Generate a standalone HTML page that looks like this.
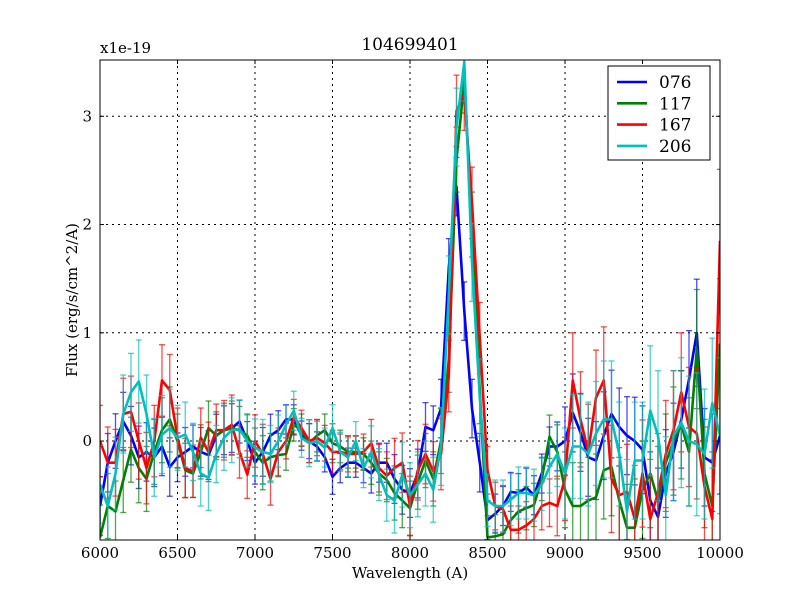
<!DOCTYPE html>
<html><head><meta charset="utf-8"><style>
body{margin:0;background:#fff;}
svg text{font-family:"DejaVu Serif","Liberation Serif",serif;}
</style></head><body>
<svg id="chart" width="800" height="600" xmlns="http://www.w3.org/2000/svg">
<rect width="800" height="600" fill="#fff"/>
<g id="grid"></g>
<defs><clipPath id="pc"><rect x="100" y="60" width="620" height="480"/></clipPath></defs>
<g id="series" clip-path="url(#pc)"></g>
<rect x="100" y="60" width="620" height="480" fill="none" stroke="#000" stroke-width="1"/>
<g id="ticks"></g>
<text x="410" y="50" font-size="17" text-anchor="middle">104699401</text>
<text x="100" y="53" font-size="15">x1e-19</text>
<text x="410" y="578" font-size="15" text-anchor="middle">Wavelength (A)</text>
<text transform="translate(77,300) rotate(-90)" font-size="15" text-anchor="middle">Flux (erg/s/cm^2/A)</text>
<g>
<rect x="608" y="66" width="102" height="94" fill="#fff" stroke="#000" stroke-width="1"/>
<g id="legend"></g>
</g>
</svg>
<script>
const wavelengths = [];
for (let w = 6000; w <= 10000; w += 50) wavelengths.push(w);
const seriesNames = ["076","117","167","206"];
const seriesColors = ["#0000ff","#008000","#ff0000","#00bfbf"];
const flux076 = [-0.6,-0.2,0.0,0.18,0.05,-0.15,-0.1,-0.15,-0.05,-0.24,-0.15,-0.1,-0.05,-0.1,-0.13,0.05,0.1,0.12,0.18,0.0,-0.2,-0.1,0.05,0.1,0.2,0.2,0.05,0.0,-0.05,-0.15,-0.33,-0.25,-0.2,-0.2,-0.25,-0.3,-0.2,-0.2,-0.35,-0.45,-0.48,-0.3,0.13,0.1,0.3,1.6,2.35,1.2,0.3,-0.2,-0.73,-0.67,-0.6,-0.47,-0.48,-0.43,-0.5,-0.3,-0.05,-0.05,0.0,0.26,0.08,-0.15,-0.18,0.05,0.25,0.13,0.05,0.0,-0.08,-0.55,-0.7,-0.3,-0.1,0.2,0.57,1.0,-0.15,-0.2,0.05];
const flux117 = [-0.89,-0.6,-0.65,-0.36,-0.08,-0.25,-0.35,-0.1,0.1,0.2,0.0,-0.27,-0.3,-0.1,0.12,0.05,0.1,0.12,0.1,0.05,-0.1,-0.2,-0.15,-0.13,-0.12,0.15,0.1,-0.02,0.05,0.1,-0.02,-0.05,-0.1,-0.1,-0.12,-0.2,-0.3,-0.36,-0.48,-0.55,-0.62,-0.38,-0.18,-0.35,0.0,0.75,2.6,3.33,2.0,0.46,-0.89,-0.88,-0.86,-0.73,-0.65,-0.62,-0.59,-0.35,0.04,-0.1,-0.45,-0.6,-0.6,-0.55,-0.52,-0.27,-0.24,-0.55,-0.8,-0.8,-0.45,-0.3,-0.55,-0.2,0.0,0.15,-0.1,0.85,-0.3,-0.6,0.9];
const flux167 = [0.0,-0.2,-0.2,0.25,0.27,0.0,-0.25,0.0,0.56,0.47,0.03,-0.25,-0.28,0.03,-0.1,0.1,0.1,0.15,-0.1,-0.31,0.0,-0.12,-0.35,-0.1,0.0,0.22,0.12,0.0,0.03,-0.02,-0.1,-0.1,-0.12,-0.12,-0.1,-0.02,-0.25,-0.32,-0.25,-0.2,-0.6,-0.27,-0.12,-0.28,-0.12,0.6,3.05,3.2,2.2,0.95,-0.27,-0.6,-0.63,-0.82,-0.82,-0.78,-0.72,-0.6,-0.57,-0.6,-0.35,0.56,0.2,-0.1,0.4,0.56,-0.35,-0.5,-0.47,-0.72,-0.3,-0.72,-0.48,-0.12,0.1,0.45,0.13,0.07,-0.42,-0.72,1.85];
const flux206 = [-0.4,-0.6,-0.3,0.25,0.45,0.55,0.25,-0.15,0.06,0.12,0.03,0.06,-0.1,-0.3,-0.34,-0.12,0.03,0.1,0.11,0.0,-0.06,-0.1,-0.12,0.0,0.15,0.28,0.03,-0.02,0.0,-0.06,0.12,-0.1,-0.15,0.0,-0.25,-0.1,-0.31,-0.5,-0.55,-0.31,-0.5,-0.4,-0.3,-0.45,-0.05,1.35,2.9,3.5,1.65,0.4,-0.55,-0.6,-0.6,-0.54,-0.48,-0.48,-0.5,-0.4,-0.24,-0.12,-0.3,-0.05,-0.05,-0.12,0.07,0.2,0.2,-0.12,-0.65,-0.18,-0.18,0.28,0.05,-0.5,0.05,0.17,0.0,-0.03,-0.12,0.35,0.05];
const fluxErr = [0.3,0.3,0.28,0.3,0.3,0.32,0.3,0.3,0.3,0.3,0.25,0.25,0.22,0.25,0.25,0.22,0.25,0.25,0.22,0.2,0.22,0.25,0.22,0.2,0.15,0.15,0.15,0.18,0.15,0.15,0.18,0.15,0.15,0.15,0.15,0.2,0.2,0.2,0.25,0.25,0.25,0.25,0.25,0.25,0.3,0.3,0.3,0.3,0.3,0.3,0.2,0.2,0.2,0.2,0.2,0.2,0.2,0.2,0.2,0.25,0.35,0.4,0.4,0.4,0.4,0.45,0.45,0.4,0.4,0.45,0.45,0.5,0.5,0.45,0.5,0.5,0.5,0.55,0.5,0.5,0.6];
const fluxSeries = [flux076, flux117, flux167, flux206];
const xTicks = [6000,6500,7000,7500,8000,8500,9000,9500,10000];
const yTicks = [0,1,2,3];

const NS="http://www.w3.org/2000/svg";
const X0=100,X1=720,Y0=60,Y1=540, xmin=6000,xmax=10000, ymin=-0.914, ymax=3.52;
const sx=w=>X0+(w-xmin)/(xmax-xmin)*(X1-X0);
const sy=v=>Y1-(v-ymin)/(ymax-ymin)*(Y1-Y0);
function mk(tag,attrs,parent){const e=document.createElementNS(NS,tag);for(const k in attrs)e.setAttribute(k,attrs[k]);parent.appendChild(e);return e;}
const grid=document.getElementById('grid'), ticks=document.getElementById('ticks');
xTicks.forEach(t=>{
  const x=sx(t);
  if(t>xmin&&t<xmax){const l=mk('line',{x1:x,x2:x,y1:Y0,y2:Y1,stroke:'#000','stroke-dasharray':'2,4','stroke-width':1},grid);
  
  }
  mk('line',{x1:x,x2:x,y1:Y1,y2:Y1-4,stroke:'#000'},ticks);
  mk('line',{x1:x,x2:x,y1:Y0,y2:Y0+4,stroke:'#000'},ticks);
  const tx=mk('text',{x:x,y:Y1+18,'font-size':15,'text-anchor':'middle'},ticks);
  tx.textContent=t;
  
  
});
yTicks.forEach(t=>{
  const y=sy(t);
  const l=mk('line',{x1:X0,x2:X1,y1:y,y2:y,stroke:'#000','stroke-dasharray':'2,4','stroke-width':1},grid);
  
  
  mk('line',{x1:X0,x2:X0+4,y1:y,y2:y,stroke:'#000'},ticks);
  mk('line',{x1:X1,x2:X1-4,y1:y,y2:y,stroke:'#000'},ticks);
  const tx=mk('text',{x:X0-8,y:y+5,'font-size':15,'text-anchor':'end'},ticks);
  tx.textContent=t;
  
  
});
const sg=document.getElementById('series'), lg=document.getElementById('legend');
fluxSeries.forEach((vals,i)=>{
  const c=seriesColors[i];
  const g=mk('g',{},sg);
  
  
  const eg=mk('g',{stroke:c,'stroke-opacity':0.7,'stroke-width':1.3},g);
  vals.forEach((v,j)=>{
    const x=sx(wavelengths[j]), e=fluxErr[j]*(0.9+0.1*i);
    const yt=sy(v+e), yb=sy(v-e);
    mk('line',{x1:x,x2:x,y1:yt,y2:yb},eg);
    mk('line',{x1:x-3,x2:x+3,y1:yt,y2:yt},eg);
    mk('line',{x1:x-3,x2:x+3,y1:yb,y2:yb},eg);
  });
  const p=mk('polyline',{points:vals.map((v,j)=>sx(wavelengths[j]).toFixed(1)+','+sy(v).toFixed(1)).join(' '),fill:'none',stroke:c,'stroke-width':2.6,'stroke-linejoin':'round'},g);
  
  
  const ly=82+i*21.3;
  const ll=mk('line',{x1:617,x2:647,y1:ly,y2:ly,stroke:c,'stroke-width':2.6},lg);
  
  
  const lt=mk('text',{x:659,y:ly+6,'font-size':17},lg);
  lt.textContent=seriesNames[i];
  
  
});
</script>
</body></html>
